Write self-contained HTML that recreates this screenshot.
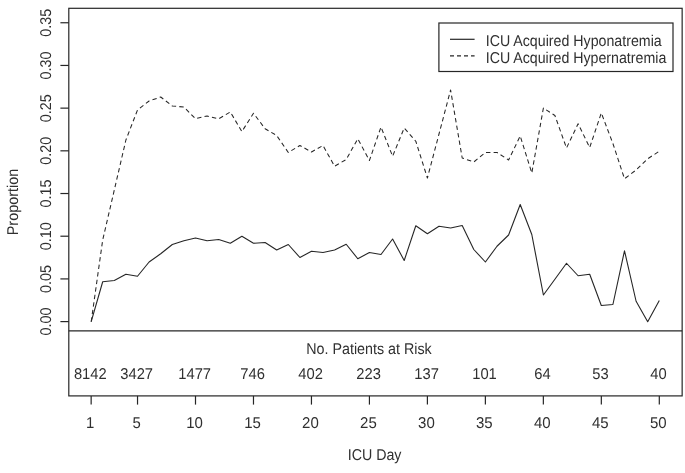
<!DOCTYPE html>
<html><head><meta charset="utf-8"><title>ICU Acquired Dysnatremia</title>
<style>
html,body{margin:0;padding:0;background:#fff;}
svg{display:block;}
text{font-family:"Liberation Sans",Arial,sans-serif;font-size:15.6px;fill:#303030;text-rendering:geometricPrecision;}
.ln{stroke:#262626;stroke-width:1.2;fill:none;}
</style></head><body>
<svg width="685" height="473" viewBox="0 0 685 473">
<rect x="0" y="0" width="685" height="473" fill="#fff"/>
<rect class="ln" x="68.8" y="8.3" width="613.35" height="387.60"/>
<line class="ln" x1="68.8" y1="330.9" x2="682.15" y2="330.9"/>

<line class="ln" x1="60.4" y1="321.60" x2="68.8" y2="321.60"/>
<text text-anchor="middle" textLength="28.0" lengthAdjust="spacingAndGlyphs" transform="translate(50.8,321.60) rotate(-90)">0.00</text>
<line class="ln" x1="60.4" y1="278.91" x2="68.8" y2="278.91"/>
<text text-anchor="middle" textLength="28.0" lengthAdjust="spacingAndGlyphs" transform="translate(50.8,278.91) rotate(-90)">0.05</text>
<line class="ln" x1="60.4" y1="236.21" x2="68.8" y2="236.21"/>
<text text-anchor="middle" textLength="28.0" lengthAdjust="spacingAndGlyphs" transform="translate(50.8,236.21) rotate(-90)">0.10</text>
<line class="ln" x1="60.4" y1="193.52" x2="68.8" y2="193.52"/>
<text text-anchor="middle" textLength="28.0" lengthAdjust="spacingAndGlyphs" transform="translate(50.8,193.52) rotate(-90)">0.15</text>
<line class="ln" x1="60.4" y1="150.83" x2="68.8" y2="150.83"/>
<text text-anchor="middle" textLength="28.0" lengthAdjust="spacingAndGlyphs" transform="translate(50.8,150.83) rotate(-90)">0.20</text>
<line class="ln" x1="60.4" y1="108.14" x2="68.8" y2="108.14"/>
<text text-anchor="middle" textLength="28.0" lengthAdjust="spacingAndGlyphs" transform="translate(50.8,108.14) rotate(-90)">0.25</text>
<line class="ln" x1="60.4" y1="65.44" x2="68.8" y2="65.44"/>
<text text-anchor="middle" textLength="28.0" lengthAdjust="spacingAndGlyphs" transform="translate(50.8,65.44) rotate(-90)">0.30</text>
<line class="ln" x1="60.4" y1="22.75" x2="68.8" y2="22.75"/>
<text text-anchor="middle" textLength="28.0" lengthAdjust="spacingAndGlyphs" transform="translate(50.8,22.75) rotate(-90)">0.35</text>
<line class="ln" x1="91.15" y1="395.9" x2="91.15" y2="404.6"/>
<text text-anchor="middle" textLength="8.3" lengthAdjust="spacingAndGlyphs" x="90.15" y="427.7">1</text>
<line class="ln" x1="137.53" y1="395.9" x2="137.53" y2="404.6"/>
<text text-anchor="middle" textLength="8.3" lengthAdjust="spacingAndGlyphs" x="136.53" y="427.7">5</text>
<line class="ln" x1="195.50" y1="395.9" x2="195.50" y2="404.6"/>
<text text-anchor="middle" textLength="16.7" lengthAdjust="spacingAndGlyphs" x="194.50" y="427.7">10</text>
<line class="ln" x1="253.48" y1="395.9" x2="253.48" y2="404.6"/>
<text text-anchor="middle" textLength="16.7" lengthAdjust="spacingAndGlyphs" x="252.48" y="427.7">15</text>
<line class="ln" x1="311.45" y1="395.9" x2="311.45" y2="404.6"/>
<text text-anchor="middle" textLength="16.7" lengthAdjust="spacingAndGlyphs" x="310.45" y="427.7">20</text>
<line class="ln" x1="369.43" y1="395.9" x2="369.43" y2="404.6"/>
<text text-anchor="middle" textLength="16.7" lengthAdjust="spacingAndGlyphs" x="368.43" y="427.7">25</text>
<line class="ln" x1="427.40" y1="395.9" x2="427.40" y2="404.6"/>
<text text-anchor="middle" textLength="16.7" lengthAdjust="spacingAndGlyphs" x="426.40" y="427.7">30</text>
<line class="ln" x1="485.38" y1="395.9" x2="485.38" y2="404.6"/>
<text text-anchor="middle" textLength="16.7" lengthAdjust="spacingAndGlyphs" x="484.38" y="427.7">35</text>
<line class="ln" x1="543.35" y1="395.9" x2="543.35" y2="404.6"/>
<text text-anchor="middle" textLength="16.7" lengthAdjust="spacingAndGlyphs" x="542.35" y="427.7">40</text>
<line class="ln" x1="601.33" y1="395.9" x2="601.33" y2="404.6"/>
<text text-anchor="middle" textLength="16.7" lengthAdjust="spacingAndGlyphs" x="600.33" y="427.7">45</text>
<line class="ln" x1="659.30" y1="395.9" x2="659.30" y2="404.6"/>
<text text-anchor="middle" textLength="16.7" lengthAdjust="spacingAndGlyphs" x="658.30" y="427.7">50</text>
<text text-anchor="middle" textLength="32.8" lengthAdjust="spacingAndGlyphs" x="90.30" y="379.0">8142</text>
<text text-anchor="middle" textLength="32.8" lengthAdjust="spacingAndGlyphs" x="136.68" y="379.0">3427</text>
<text text-anchor="middle" textLength="32.8" lengthAdjust="spacingAndGlyphs" x="194.65" y="379.0">1477</text>
<text text-anchor="middle" textLength="24.6" lengthAdjust="spacingAndGlyphs" x="252.63" y="379.0">746</text>
<text text-anchor="middle" textLength="24.6" lengthAdjust="spacingAndGlyphs" x="310.60" y="379.0">402</text>
<text text-anchor="middle" textLength="24.6" lengthAdjust="spacingAndGlyphs" x="368.58" y="379.0">223</text>
<text text-anchor="middle" textLength="24.6" lengthAdjust="spacingAndGlyphs" x="426.55" y="379.0">137</text>
<text text-anchor="middle" textLength="24.6" lengthAdjust="spacingAndGlyphs" x="484.53" y="379.0">101</text>
<text text-anchor="middle" textLength="16.4" lengthAdjust="spacingAndGlyphs" x="542.50" y="379.0">64</text>
<text text-anchor="middle" textLength="16.4" lengthAdjust="spacingAndGlyphs" x="600.48" y="379.0">53</text>
<text text-anchor="middle" textLength="16.4" lengthAdjust="spacingAndGlyphs" x="658.45" y="379.0">40</text>
<text text-anchor="middle" textLength="125.5" lengthAdjust="spacingAndGlyphs" x="369.03" y="354.1">No. Patients at Risk</text>
<text text-anchor="middle" textLength="53.8" lengthAdjust="spacingAndGlyphs" x="374.6" y="459.6">ICU Day</text>
<text text-anchor="middle" textLength="66.5" lengthAdjust="spacingAndGlyphs" transform="translate(17.7,202) rotate(-90)">Proportion</text>
<polyline class="ln" style="stroke-width:1.1" stroke-linejoin="round" points="91.2,321.70 102.7,281.75 114.3,280.50 125.9,274.25 137.5,276.25 149.1,262.00 160.7,253.75 172.3,244.50 183.9,240.75 195.5,238.00 207.1,240.75 218.7,239.50 230.3,243.25 241.9,236.25 253.5,243.25 265.1,242.50 276.7,250.00 288.3,244.50 299.9,257.50 311.5,251.25 323.0,252.50 334.6,250.00 346.2,244.25 357.8,258.75 369.4,252.50 381.0,254.50 392.6,239.00 404.2,260.50 415.8,225.75 427.4,233.75 439.0,226.25 450.6,228.00 462.2,225.50 473.8,249.50 485.4,262.00 497.0,246.25 508.6,235.00 520.2,204.50 531.8,234.50 543.4,295.00 554.9,279.25 566.5,263.25 578.1,275.75 589.7,274.25 601.3,305.50 612.9,304.50 624.5,250.75 636.1,301.25 647.7,321.75 659.3,300.50"/>
<polyline class="ln" style="stroke-width:1.05" stroke-linejoin="round" stroke-dasharray="4.4 3.2" points="91.2,321.70 102.7,240.00 114.3,190.00 125.9,140.00 137.5,110.00 149.1,101.00 160.7,97.00 172.3,106.00 183.9,107.00 195.5,118.75 207.1,116.00 218.7,118.75 230.3,112.00 241.9,131.50 253.5,113.25 265.1,128.75 276.7,135.50 288.3,152.50 299.9,145.50 311.5,152.00 323.0,145.50 334.6,166.25 346.2,159.50 357.8,138.75 369.4,160.50 381.0,127.00 392.6,156.25 404.2,128.00 415.8,141.25 427.4,178.00 439.0,134.00 450.6,90.00 462.2,158.00 473.8,162.00 485.4,152.50 497.0,152.50 508.6,160.00 520.2,136.00 531.8,173.00 543.4,108.00 554.9,115.50 566.5,148.00 578.1,123.75 589.7,147.50 601.3,113.00 612.9,143.50 624.5,178.75 636.1,170.00 647.7,158.75 659.3,151.25"/>
<rect class="ln" x="438.9" y="23" width="234.1" height="48.5" fill="#fff"/>
<line class="ln" x1="450" y1="39.3" x2="474.6" y2="39.3"/>
<line class="ln" stroke-dasharray="4 3" x1="450" y1="55.8" x2="474.6" y2="55.8"/>
<text textLength="176.0" lengthAdjust="spacingAndGlyphs" x="485.7" y="45.9">ICU Acquired Hyponatremia</text>
<text textLength="180.6" lengthAdjust="spacingAndGlyphs" x="485.7" y="62.5">ICU Acquired Hypernatremia</text>
</svg></body></html>
